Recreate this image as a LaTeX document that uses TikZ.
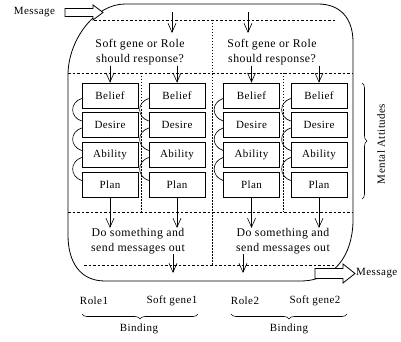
\documentclass[tikz,border=0pt]{standalone}
\usepackage{fontspec}
\setmainfont{Liberation Serif}[LetterSpace=4]
\usetikzlibrary{arrows.meta,decorations.pathreplacing}
\begin{document}
\begin{tikzpicture}[x=1pt,y=-1pt,
  every node/.style={font=\fontsize{11}{14}\selectfont},
  att/.style={draw, line width=0.7pt, minimum width=56pt, minimum height=25pt, inner sep=0pt},
  flow/.style={-{Straight Barb[length=9pt,width=8pt]}, line width=0.6pt},
  sep/.style={dash pattern=on 2.5pt off 2pt, line width=0.6pt},
  vsep/.style={dash pattern=on 1.5pt off 1.5pt, line width=0.7pt},
  link/.style={line width=0.6pt},
  brc/.style={decorate, decoration={brace, amplitude=5pt}, line width=0.6pt},
  txt/.style={align=center, inner sep=0pt, font=\fontsize{11.8}{15}\selectfont},
  blk/.style={draw, fill=white, line width=0.8pt, line join=miter},
]
\useasboundingbox (0,0) rectangle (401,342);

% outer border
\draw[line width=0.8pt] (125,4) -- (318,4) .. controls (340,4) and (353,18) .. (353,42)
  -- (353,222) .. controls (352,255) and (335,281) .. (300,281)
  -- (105,281) .. controls (80,281) and (68,262) .. (68,235)
  -- (68,75) .. controls (68,40) and (95,4) .. (125,4) -- cycle;

% separators
\draw[sep] (94,20) -- (336,20);
\draw[sep] (68,73) -- (353,73);
\draw[sep] (68,212) -- (353,212);
\draw[sep] (84,265) -- (334,265);
\draw[vsep] (212,20) -- (212,265);
\draw[vsep] (141,73) -- (141,212);
\draw[vsep] (283,73) -- (283,212);

% questions and actions
\node[txt] (q1) at (140,52.5) {Soft gene or Role\\should response?};
\node[txt] (q2) at (272,52.5) {Soft gene or Role\\should response?};
\node[txt] (d1) at (138,241) {Do something and\\send messages out};
\node[txt] (d2) at (283,241) {Do something and\\send messages out};

% boxes
\foreach \c/\x in {1/110,2/177,3/251.5,4/319}{
  \node[att] (b\c) at (\x,95.5) {Belief};
  \node[att] (e\c) at (\x,125) {Desire};
  \node[att] (a\c) at (\x,154.5) {Ability};
  \node[att] (p\c) at (\x,184.5) {Plan};
  \draw[link] ([yshift=-3pt]b\c.west) .. controls +(-12,4) and +(-12,-4) .. ([yshift=4pt]e\c.west);
  \draw[link] ([yshift=-3pt]e\c.west) .. controls +(-12,4) and +(-12,-4) .. ([yshift=4pt]a\c.west);
  \draw[link] ([yshift=-3pt]a\c.west) .. controls +(-12,4) and +(-12,-4) .. ([yshift=4pt]p\c.west);
}

% top input arrows
\coordinate (t1) at (172,12);
\coordinate (t1e) at (172,33);
\coordinate (t2) at (248,12);
\coordinate (t2e) at (248,33);
\draw[flow] (t1) -- (t1e);
\draw[flow] (t2) -- (t2e);

% question to belief
\draw[flow] (q1.south -| b1.north) -- (b1.north);
\draw[flow] (q1.south -| b2.north) -- (b2.north);
\draw[flow] (q2.south -| b3.north) -- (b3.north);
\draw[flow] (q2.south -| b4.north) -- (b4.north);

% plan to action
\draw[flow] (p1.south) -- (p1.south |- d1.north);
\draw[flow] (p2.south) -- (p2.south |- d1.north);
\draw[flow] (p3.south) -- (p3.south |- d2.north);
\draw[flow] (p4.south) -- (p4.south |- d2.north);

% bottom out arrows
\coordinate (o1) at (173,273);
\coordinate (o2) at (243,273);
\draw[flow] (d1.south -| o1) -- (o1);
\draw[flow] (d2.south -| o2) -- (o2);

% message block arrows
\draw[blk] (65,8.5) -- (93,8.5) -- (93,5) -- (103,12.5) -- (93,20) -- (93,16.5) -- (65,16.5) -- cycle;
\node[inner sep=0pt] (min) at (34.5,12.5) {Message};
\draw[blk] (315,268.5) -- (343,268.5) -- (343,264) -- (355,273.5) -- (343,283) -- (343,278.5) -- (315,278.5) -- cycle;
\node[inner sep=0pt, anchor=west] (mout) at (356,273.5) {Message};

% mental attitudes
\draw[brc] (362,83) -- (362,199);
\node[rotate=90, inner sep=0pt] (ma) at (381,144) {Mental Attitudes};

% bindings
\node[inner sep=0pt] (r1) at (94,301) {Role1};
\node[inner sep=0pt] (s1) at (172,301) {Soft gene1};
\draw[brc, decoration={mirror}] (82,314) -- (198,314);
\node[inner sep=0pt] (bd1) at (139,329) {Binding};
\node[inner sep=0pt] (r2) at (245,301) {Role2};
\node[inner sep=0pt] (s2) at (315,301) {Soft gene2};
\draw[brc, decoration={mirror}] (231,314) -- (347,314);
\node[inner sep=0pt] (bd2) at (289,329) {Binding};
\end{tikzpicture}
\end{document}
